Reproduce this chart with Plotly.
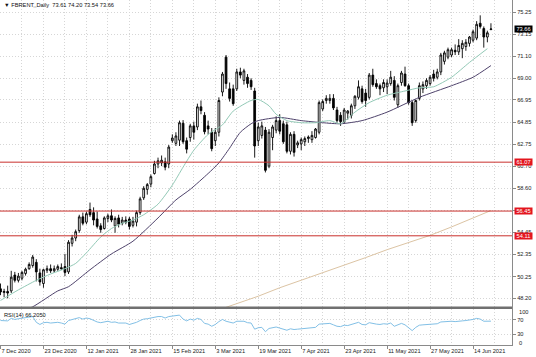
import plotly.graph_objects as go

# ---------------- data ----------------
open_ = [49.10, 48.75, 48.85, 48.90, 50.40, 49.90, 50.10, 50.55, 51.00, 51.30,
         51.60, 50.60, 49.60, 50.85, 51.00, 50.80, 50.95, 51.10, 51.20, 50.70,
         53.40, 53.90, 54.60, 55.90, 55.40, 56.60, 56.30, 55.70, 55.05, 54.80,
         55.75, 56.00, 55.05, 55.80, 55.30, 55.60, 55.70, 55.10, 55.40, 56.30,
         57.70, 58.50, 59.00, 60.00, 60.90, 61.00, 61.10, 60.90, 63.10, 62.85,
         63.15, 64.75, 63.10, 63.40, 64.50, 64.40, 66.30, 65.50, 64.50, 63.90,
         63.10, 63.90, 67.70, 71.00, 68.00, 68.00, 68.00, 69.60, 68.80, 69.10,
         68.80, 67.80, 63.10, 63.60, 64.10, 60.70, 63.40, 64.10, 65.00, 64.70,
         64.60, 62.10, 63.70, 62.70, 62.80, 63.00, 63.30, 63.20, 63.40, 63.90,
         66.10, 66.90, 66.90, 67.10, 66.00, 65.50, 64.90, 65.70, 65.50, 66.40,
         67.20, 68.00, 67.60, 67.20, 69.30, 68.50, 68.30, 68.10, 68.20, 68.50,
         68.80, 66.50, 68.60, 69.40, 68.30, 66.70, 65.00, 67.10, 68.00, 68.30,
         68.50, 69.40, 69.10, 69.60, 70.60, 71.00, 71.20, 71.65, 71.50, 71.80,
         72.00, 72.30, 72.60, 72.80, 74.20, 73.70, 72.90, 73.61]
high = [49.60, 49.10, 49.40, 50.80, 50.70, 50.60, 50.80, 51.10, 51.60, 52.30,
        51.90, 51.00, 51.00, 51.30, 51.40, 51.30, 51.40, 51.50, 52.40, 53.70,
        54.20, 54.70, 56.10, 56.30, 56.40, 57.25, 56.80, 56.40, 55.30, 55.95,
        56.20, 56.60, 55.95, 56.10, 55.90, 55.95, 55.90, 55.90, 56.50, 57.80,
        58.80, 59.10, 59.90, 61.20, 61.50, 61.70, 61.50, 62.70, 63.70, 63.90,
        65.00, 65.05, 63.40, 64.70, 64.90, 66.60, 66.90, 65.80, 65.00, 64.30,
        64.30, 67.20, 69.60, 71.20, 68.60, 68.40, 69.90, 70.00, 69.90, 69.40,
        69.00, 68.10, 64.80, 64.90, 64.40, 64.20, 64.60, 65.40, 65.60, 65.00,
        64.90, 63.90, 64.00, 63.10, 63.40, 63.50, 63.60, 64.00, 64.30, 66.90,
        67.00, 67.40, 67.50, 67.50, 66.30, 65.80, 66.20, 66.00, 66.60, 67.40,
        68.80, 68.30, 68.00, 69.50, 69.90, 68.90, 68.50, 68.90, 68.90, 69.70,
        69.20, 68.50, 69.70, 70.10, 68.50, 66.90, 67.00, 68.60, 68.70, 69.00,
        69.30, 69.80, 69.90, 71.40, 71.60, 71.90, 71.90, 72.20, 72.70, 72.60,
        72.70, 73.00, 73.60, 74.40, 74.95, 73.90, 73.50, 74.20]
low = [48.50, 48.30, 48.20, 48.70, 49.70, 49.70, 49.90, 50.35, 50.90, 51.10,
       49.80, 49.40, 49.20, 50.60, 50.60, 50.60, 50.80, 50.90, 50.30, 50.50,
       53.10, 53.60, 54.40, 55.10, 55.20, 55.90, 55.10, 54.80, 54.40, 54.70,
       55.40, 55.40, 54.40, 54.90, 55.10, 55.20, 54.70, 54.90, 55.00, 56.10,
       57.50, 58.00, 58.70, 59.90, 60.50, 60.70, 60.30, 60.50, 62.90, 62.60,
       62.60, 62.80, 61.90, 63.00, 63.20, 64.10, 65.60, 63.70, 63.70, 62.10,
       62.60, 63.50, 67.30, 68.00, 66.80, 66.40, 67.80, 69.00, 68.40, 68.10,
       67.90, 61.50, 62.60, 63.30, 60.10, 60.50, 62.20, 63.80, 63.70, 62.80,
       61.90, 61.80, 61.60, 62.40, 62.20, 62.60, 62.90, 62.90, 63.30, 63.70,
       65.90, 66.60, 66.60, 66.00, 64.80, 64.50, 64.70, 65.10, 65.20, 66.10,
       67.00, 66.60, 66.30, 67.00, 68.20, 68.00, 67.40, 67.70, 67.50, 68.30,
       66.90, 66.20, 68.30, 68.20, 66.50, 64.50, 64.80, 66.90, 67.60, 68.00,
       68.30, 68.70, 68.90, 69.30, 70.30, 70.80, 71.00, 71.20, 71.20, 70.90,
       71.60, 72.00, 72.40, 72.60, 73.70, 71.90, 72.40, 73.54]
close = [48.80, 48.85, 48.70, 50.20, 49.90, 50.30, 50.65, 50.95, 51.40, 52.10,
         50.70, 49.75, 50.90, 51.00, 50.80, 51.00, 51.20, 51.00, 50.65, 53.50,
         53.90, 54.50, 55.90, 55.30, 56.20, 56.10, 55.60, 55.00, 54.70, 55.80,
         56.00, 55.60, 55.75, 55.20, 55.60, 55.40, 55.00, 55.50, 56.30, 57.60,
         58.60, 58.95, 59.70, 60.90, 61.20, 61.25, 60.60, 62.50, 63.35, 63.55,
         64.80, 63.00, 62.30, 64.50, 63.90, 66.30, 65.95, 63.95, 64.20, 62.35,
         63.90, 66.90, 69.40, 68.50, 67.10, 66.60, 69.60, 69.30, 69.70, 68.50,
         68.20, 62.60, 64.40, 64.50, 60.30, 63.90, 64.40, 65.00, 64.00, 63.00,
         62.10, 63.70, 62.00, 62.90, 63.20, 63.30, 63.45, 63.60, 64.20, 66.70,
         66.80, 67.10, 67.10, 66.20, 65.00, 64.90, 66.00, 65.90, 66.40, 67.30,
         68.20, 66.80, 66.90, 69.30, 68.40, 68.20, 68.00, 68.60, 68.55, 69.10,
         67.20, 68.30, 69.50, 68.30, 66.70, 64.80, 66.90, 68.30, 68.40, 68.80,
         69.10, 69.00, 69.60, 71.20, 71.40, 71.70, 71.70, 71.50, 72.10, 72.30,
         72.40, 72.90, 73.40, 74.10, 73.90, 72.90, 73.30, 73.66]

# moving averages (bar number, price)
ma_fast_bar = [0, 5, 10, 14, 18, 21, 24, 28, 31, 34, 37, 40, 44, 48, 51, 54, 58, 62, 65,
               70, 72, 75, 77, 80, 84, 88, 92, 95, 99, 103, 108, 113, 117, 121, 126, 131, 136]
ma_fast_val = [48.0, 49.0, 49.9, 50.5, 51.0, 51.5, 52.5, 54.0, 54.8, 55.3, 55.6, 56.1, 57.1,
               58.9, 60.6, 62.2, 63.7, 64.6, 65.9, 66.9, 67.0, 66.4, 65.6, 65.0, 64.8, 64.8,
               65.0, 64.7, 65.8, 66.7, 67.4, 67.8, 68.1, 68.2, 69.1, 70.5, 71.8]
ma_slow_bar = [5, 9, 16, 19, 25, 31, 37, 44, 49, 53, 58, 61, 64, 67, 70, 72, 78, 84, 90,
               95, 101, 108, 117, 126, 132, 137]
ma_slow_val = [46.9, 47.4, 48.9, 49.3, 50.9, 52.4, 53.6, 55.8, 57.5, 58.5, 60.0, 61.0, 62.4,
               63.9, 64.7, 65.0, 65.3, 65.0, 64.8, 64.7, 65.0, 65.8, 67.2, 68.3, 69.1, 70.2]
ma_long_bar = [60, 66, 72, 78, 84, 90, 96, 102, 108, 114, 120, 126, 132, 137]
ma_long_val = [47.0, 47.7, 48.4, 49.2, 49.9, 50.6, 51.35, 52.05, 52.8, 53.5, 54.15, 54.95,
               55.8, 56.5]

rsi = [68, 68, 67, 74, 71, 73, 75, 76, 77, 79, 63, 57, 62, 63, 61, 62, 63, 61, 58, 68,
       70, 72, 76, 72, 75, 73, 68, 64, 62, 65, 66, 63, 64, 61, 62, 61, 57, 59, 63, 68,
       72, 73, 75, 78, 79, 79, 75, 79, 81, 81, 83, 72, 67, 72, 69, 74, 71, 60, 58, 52,
       57, 65, 71, 66, 63, 61, 66, 65, 66, 62, 61, 44, 48, 49, 37, 46, 47, 50, 47, 44,
       41, 45, 43, 44, 45, 45, 46, 47, 49, 58, 59, 60, 60, 56, 52, 51, 55, 54, 57, 60,
       63, 57, 56, 62, 59, 58, 57, 59, 58, 61, 52, 57, 60, 56, 49, 40, 49, 55, 56, 57,
       58, 57, 59, 64, 65, 66, 66, 65, 67, 67, 68, 69, 71, 74, 72, 66, 67, 66.205]

levels = [61.07, 56.45, 54.11]
last_price = 73.66

price_ticks = [48.20, 50.25, 52.35, 54.45, 56.50, 58.60, 60.70, 62.75, 64.85,
               66.95, 69.00, 71.10, 73.15, 75.25]
date_tick_bar = [0, 12, 24, 36, 48, 60, 72, 84, 96, 108, 120, 132]
date_tick_text = ["7 Dec 2020", "23 Dec 2020", "12 Jan 2021", "28 Jan 2021",
                  "15 Feb 2021", "3 Mar 2021", "19 Mar 2021", "7 Apr 2021",
                  "23 Apr 2021", "11 May 2021", "27 May 2021", "14 Jun 2021"]
header_text = "FBRENT,,Daily  73.61 74.20 73.54 73.66"
rsi_text = "RSI(14) 66.2050"

# ---------------- layout geometry ----------------
W, H = 536, 357
ML, MR, MT, MB = 0, 24, 0, 12
PW = W - ML - MR
PH = H - MT - MB


def ypaper(px):
    return 1 - (px - MT) / PH


def xpaper(px):
    return (px - ML) / PW


bars = list(range(len(close)))
FONT = "Liberation Sans, Arial, sans-serif"
FS = 5.7
GRID = "#d6d6d6"
GDASH = "1px,2px"
FRAME = "#8a8a8a"

fig = go.Figure()

fig.add_trace(go.Candlestick(
    x=bars, open=open_, high=high, low=low, close=close,
    xaxis="x2", yaxis="y",
    increasing=dict(line=dict(color="#000000", width=0.9), fillcolor="#ffffff"),
    decreasing=dict(line=dict(color="#000000", width=0.9), fillcolor="#000000"),
    whiskerwidth=0, hoverinfo="skip", showlegend=False))

fig.add_trace(go.Scatter(x=ma_long_bar, y=ma_long_val, mode="lines", xaxis="x2", yaxis="y",
                         line=dict(color="#dcc4a4", width=1), hoverinfo="skip"))
fig.add_trace(go.Scatter(x=ma_slow_bar, y=ma_slow_val, mode="lines", xaxis="x2", yaxis="y",
                         line=dict(color="#4e426b", width=1, shape="spline", smoothing=0.6),
                         hoverinfo="skip"))
fig.add_trace(go.Scatter(x=ma_fast_bar, y=ma_fast_val, mode="lines", xaxis="x2", yaxis="y",
                         line=dict(color="#92c9b6", width=1, shape="spline", smoothing=0.6),
                         hoverinfo="skip"))

fig.add_trace(go.Scatter(x=bars, y=rsi, mode="lines", xaxis="x", yaxis="y2",
                         line=dict(color="#82c0e6", width=1), hoverinfo="skip"))

shapes = []
for lv in levels:
    shapes.append(dict(type="line", xref="x2", yref="y", x0=-5, x1=160, y0=lv, y1=lv,
                       line=dict(color="#c9302c", width=1)))
# pane separator
shapes.append(dict(type="rect", xref="paper", yref="paper", x0=0, x1=1,
                   y0=ypaper(309), y1=ypaper(306.5), fillcolor="#707070",
                   line=dict(width=0), layer="above"))

annotations = [
    dict(text="\u25bc " + header_text, xref="paper", yref="paper", x=xpaper(2), y=ypaper(5.5),
         xanchor="left", yanchor="middle", showarrow=False,
         font=dict(family=FONT, size=FS, color="#111111")),
    dict(text=rsi_text, xref="paper", yref="paper", x=xpaper(2), y=ypaper(314.5),
         xanchor="left", yanchor="middle", showarrow=False,
         font=dict(family=FONT, size=FS, color="#111111")),
    dict(text="100", xref="paper", yref="paper", x=xpaper(516.5), y=ypaper(312.3),
         xanchor="left", yanchor="middle", showarrow=False,
         font=dict(family=FONT, size=FS, color="#222222")),
    dict(text="0", xref="paper", yref="paper", x=xpaper(516.5), y=ypaper(343),
         xanchor="left", yanchor="middle", showarrow=False,
         font=dict(family=FONT, size=FS, color="#222222")),
]
for lv in levels:
    annotations.append(dict(text=f"{lv:.2f}", xref="paper", yref="y", x=xpaper(513.5), y=lv,
                            xanchor="left", yanchor="middle", showarrow=False,
                            bgcolor="#e3161e", width=17, height=6, borderpad=0,
                            font=dict(family=FONT, size=FS, color="#ffffff")))
annotations.append(dict(text=f"{last_price:.2f}", xref="paper", yref="y", x=xpaper(513.5),
                        y=last_price, xanchor="left", yanchor="middle", showarrow=False,
                        bgcolor="#000000", width=17, height=6, borderpad=0,
                        font=dict(family=FONT, size=FS, color="#ffffff")))

xr = [-0.14, 142.88]
minor_bars = [b + 6 for b in date_tick_bar]
common_x = dict(range=xr, showgrid=True, gridcolor=GRID, griddash=GDASH, gridwidth=1,
                zeroline=False, showline=True, linecolor=FRAME, mirror=True,
                minor=dict(tickvals=minor_bars, showgrid=True, gridcolor=GRID,
                           griddash=GDASH, ticks=""),
                domain=[0, 1], fixedrange=True)

fig.update_layout(
    width=W, height=H,
    margin=dict(l=ML, r=MR, t=MT, b=MB, pad=0),
    paper_bgcolor="#ffffff", plot_bgcolor="#ffffff",
    showlegend=False, hovermode=False,
    font=dict(family=FONT, size=FS, color="#222222"),
    xaxis=dict(anchor="y2", tickvals=date_tick_bar, ticktext=date_tick_text,
               ticks="outside", ticklen=3, tickcolor=FRAME,
               ticklabelposition="outside right",
               tickfont=dict(family=FONT, size=FS, color="#222222"),
               rangeslider=dict(visible=False), **common_x),
    xaxis2=dict(anchor="y", matches="x", tickvals=date_tick_bar, showticklabels=False,
                ticks="", rangeslider=dict(visible=False), **common_x),
    yaxis=dict(domain=[ypaper(307), 1], anchor="x2", side="right",
               range=[47.38, 76.40], tickvals=price_ticks,
               ticktext=[f"{v:.2f}" for v in price_ticks],
               ticks="outside", ticklen=3, tickcolor=FRAME,
               tickfont=dict(family=FONT, size=FS, color="#222222"),
               showgrid=True, gridcolor=GRID, griddash=GDASH, zeroline=False,
               showline=True, linecolor=FRAME, mirror=True, fixedrange=True),
    yaxis2=dict(domain=[0, ypaper(309)], anchor="x", side="right",
                range=[0, 100], tickvals=[70, 30], ticktext=["70", "30"],
                ticks="outside", ticklen=3, tickcolor=FRAME,
                tickfont=dict(family=FONT, size=FS, color="#222222"),
                showgrid=True, gridcolor=GRID, griddash=GDASH, zeroline=False,
                showline=True, linecolor=FRAME, mirror=True, fixedrange=True),
    shapes=shapes, annotations=annotations,
)

fig.write_html("out.html", config={"displayModeBar": False},
               post_script="document.body.style.margin='0px';"
                           "document.body.style.overflow='hidden';")
